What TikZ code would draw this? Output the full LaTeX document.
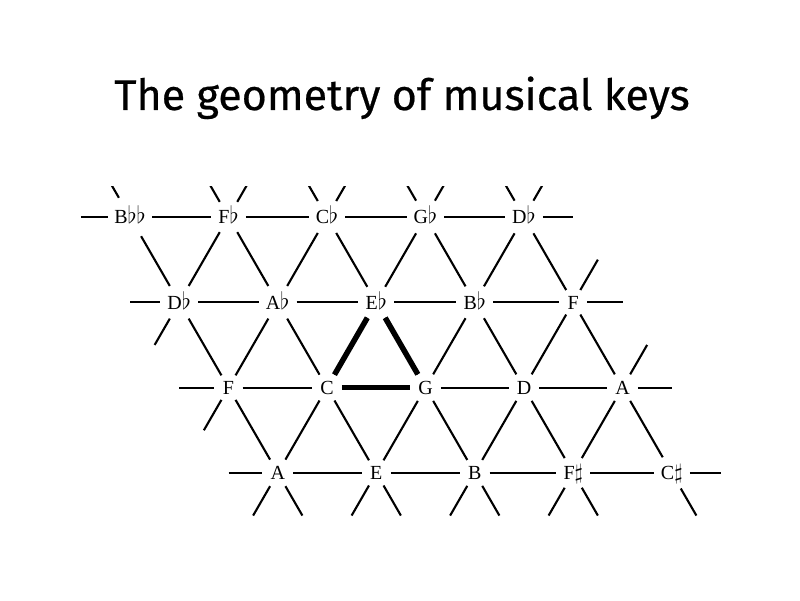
\documentclass[tikz,border=0pt]{standalone}
\usepackage{fontspec}
\newfontfamily\titlefont[FakeBold=0.5]{Fira Sans}
\newfontfamily\notefont{Liberation Serif}

\newcommand{\fl}{\scalebox{1.15}{$\flat$}}
\newcommand{\shp}{\scalebox{1.05}{$\sharp$}}

\tikzset{
  key/.style={circle, inner sep=3.6pt, text height=14pt, text depth=0pt,
    font=\notefont\fontsize{20}{20}\selectfont},
  edge/.style={line width=2.1pt},
  chord/.style={line width=5.5pt},
}

\begin{document}
\begin{tikzpicture}[x=98.5pt, y=85.3pt]
    \useasboundingbox (0,0) rectangle (800pt,600pt);

    \node[anchor=base, font=\titlefont\fontsize{43}{43}\selectfont] (title) at (402pt,490pt) {The geometry of musical keys};

    \begin{scope}[shift={(130pt,383pt)}]
      % row 1
      \node[key] (k11) at (0,0) {B\fl\fl};
      \node[key] (k12) at (1,0) {F\fl};
      \node[key] (k13) at (2,0) {C\fl};
      \node[key] (k14) at (3,0) {G\fl};
      \node[key] (k15) at (4,0) {D\fl};
      % row 2
      \node[key] (k21) at (0.5,-1) {D\fl};
      \node[key] (k22) at (1.5,-1) {A\fl};
      \node[key] (k23) at (2.5,-1) {E\fl};
      \node[key] (k24) at (3.5,-1) {B\fl};
      \node[key] (k25) at (4.5,-1) {F};
      % row 3
      \node[key] (k31) at (1,-2) {F};
      \node[key] (k32) at (2,-2) {C};
      \node[key] (k33) at (3,-2) {G};
      \node[key] (k34) at (4,-2) {D};
      \node[key] (k35) at (5,-2) {A};
      % row 4
      \node[key] (k41) at (1.5,-3) {A};
      \node[key] (k42) at (2.5,-3) {E};
      \node[key] (k43) at (3.5,-3) {B};
      \node[key] (k44) at (4.5,-3) {F\shp};
      \node[key] (k45) at (5.5,-3) {C\shp};

      % free ends of the lattice lines
      \foreach \r in {1,...,4} {
        \coordinate (hl\r) at (0.5*\r-1, 1-\r);
        \coordinate (hr\r) at (0.5*\r+4, 1-\r);
      }
      \foreach \c in {1,...,5} {
        \coordinate (ul\c) at (\c-1.25, 0.5);
        \coordinate (lr\c) at (\c+0.75, -3.5);
      }
      \foreach \c in {2,...,5}
        \coordinate (ur1\c) at (\c-0.75, 0.5);
      \coordinate (ur25) at (4.75,-0.5);
      \coordinate (ur35) at (5.25,-1.5);
      \foreach \c in {1,...,4}
        \coordinate (ll4\c) at (\c+0.25, -3.5);
      \coordinate (ll21) at (0.25,-1.5);
      \coordinate (ll31) at (0.75,-2.5);

      \begin{scope}
        \clip (-1,-4) rectangle (7,0.352);
        % horizontal lines
        \foreach \r in {1,...,4} {
          \draw[edge] (hl\r) -- (k\r1);
          \draw[edge] (k\r5) -- (hr\r);
          \foreach \c in {1,...,4} {
            \pgfmathtruncatemacro{\nc}{\c+1}
            \draw[edge] (k\r\c) -- (k\r\nc);
          }
        }
        % the two diagonal directions
        \foreach \r in {1,2,3} {
          \pgfmathtruncatemacro{\nr}{\r+1}
          \foreach \c in {1,...,5}
            \draw[edge] (k\r\c) -- (k\nr\c);
          \foreach \c in {1,...,4} {
            \pgfmathtruncatemacro{\nc}{\c+1}
            \draw[edge] (k\r\nc) -- (k\nr\c);
          }
        }
        % stubs
        \foreach \c in {1,...,5} {
          \draw[edge] (k1\c) -- (ul\c);
          \draw[edge] (k4\c) -- (lr\c);
        }
        \foreach \k in {12,13,14,15,25,35}
          \draw[edge] (k\k) -- (ur\k);
        \foreach \k in {21,31,41,42,43,44}
          \draw[edge] (k\k) -- (ll\k);
      \end{scope}

      % the triad
      \draw[chord] (k32) -- (k33);
      \draw[chord] (k33) -- (k23);
      \draw[chord] (k23) -- (k32);
    \end{scope}
\end{tikzpicture}
\end{document}
